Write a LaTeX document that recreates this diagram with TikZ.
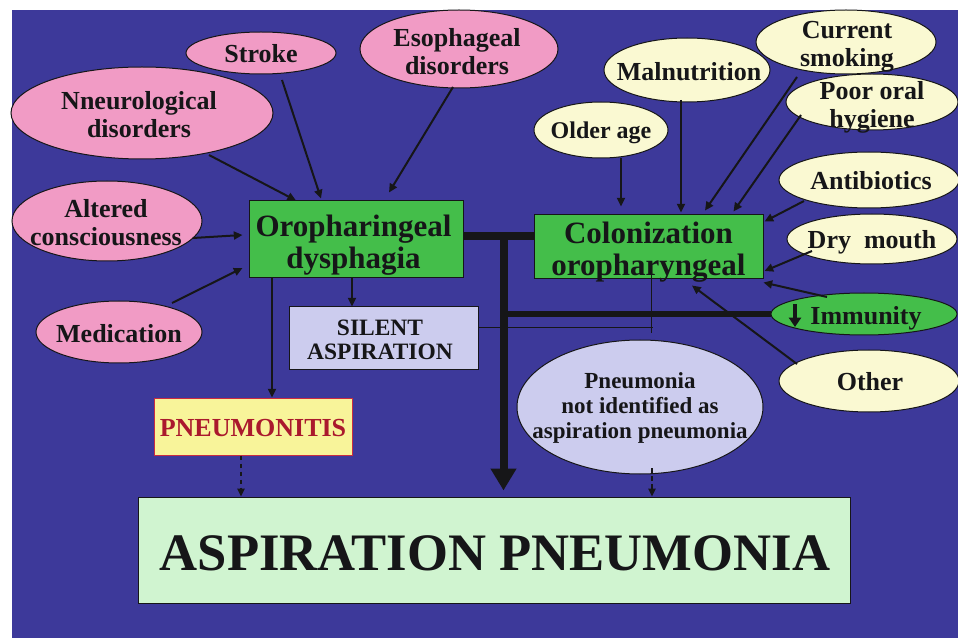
\documentclass[tikz,border=0pt]{standalone}
\usepackage{fontspec}
\setmainfont{Liberation Serif}
\usetikzlibrary{calc,shapes.geometric,arrows.meta}

\definecolor{bgblue}{RGB}{61,57,154}
\definecolor{pinkfill}{RGB}{241,155,197}
\definecolor{yelfill}{RGB}{250,249,210}
\definecolor{grnfill}{RGB}{68,190,74}
\definecolor{lavfill}{RGB}{204,204,238}
\definecolor{pnfill}{RGB}{248,244,154}
\definecolor{pnred}{RGB}{170,25,45}
\definecolor{pnedge}{RGB}{200,45,65}
\definecolor{aspfill}{RGB}{208,244,208}
\definecolor{ink}{RGB}{22,22,24}

\tikzset{
  ell/.style 2 args={ellipse, draw=ink, line width=0.75pt, inner sep=0pt,
    minimum width=#1*1.5pt, minimum height=#2*1.5pt},
  box/.style 2 args={rectangle, draw=ink, line width=0.75pt, inner sep=0pt,
    minimum width=#1*0.75pt, minimum height=#2*0.75pt},
  pinkel/.style={fill=pinkfill},
  yelel/.style={fill=yelfill},
  lbl/.style={align=center, inner sep=0pt, text=ink,
    font=\bfseries\fontsize{19.5pt}{21pt}\selectfont},
  arr/.style={draw=ink, line width=1.5pt, -{Triangle[length=6.5pt,width=6pt]}},
  darr/.style={draw=ink, line width=1.2pt, dash pattern=on 3.5pt off 2.5pt,
    -{Triangle[length=6pt,width=5.5pt]}},
  trunk/.style={draw=ink, line width=6pt},
  bigarr/.style={draw=ink, line width=6pt, -{Triangle[length=16.5pt,width=18.5pt]}},
  branch/.style={draw=ink, line width=4.5pt},
  fine/.style={draw=ink, line width=0.75pt},
}

\begin{document}
\begin{tikzpicture}[x=0.75pt,y=-0.75pt]
\useasboundingbox (0,0) rectangle (958,638);
\fill[white] (0,0) rectangle (958,638);
\fill[bgblue] (12,10) rectangle (958,638);

% causes of dysphagia
\node[ell={75}{21}, pinkel] (stroke) at (261,53) {};
\node[ell={99}{39}, pinkel] (esoph) at (459,49) {};
\node[ell={131}{46}, pinkel] (neuro) at (142,113) {};
\node[ell={95}{40}, pinkel] (alter) at (107,221) {};
\node[ell={83}{31}, pinkel] (medic) at (119,332) {};

% causes of colonization
\node[ell={67}{28}, yelel] (older) at (601,130) {};
\node[ell={83}{32}, yelel] (malnu) at (687,70) {};
\node[ell={90}{32}, yelel] (smoke) at (846,42) {};
\node[ell={86}{28}, yelel] (poor) at (872,102) {};
\node[ell={90}{28}, yelel] (anti) at (869,180) {};
\node[ell={85}{25}, yelel] (dry) at (872,239) {};
\node[ell={93}{21}, fill=grnfill] (imm) at (864,314) {};
\node[ell={90}{31}, yelel] (other) at (869,381) {};
\node[ell={123}{67}, fill=lavfill] (pna) at (640,407) {};

% labels of the ellipses
\node[lbl] (strokeT) at (261,54) {Stroke};
\node[lbl] (esophT) at (457,52) {Esophageal\\disorders};
\node[lbl] (neuroT) at (139,115) {Nneurological\\disorders};
\node[lbl] (alterT) at (106,223) {Altered\\consciousness};
\node[lbl] (medicT) at (119,334) {Medication};
\node[lbl, font=\bfseries\fontsize{18pt}{20pt}\selectfont] (olderT) at (601,133) {Older age};
\node[lbl] (malnuT) at (689,72) {Malnutrition};
\node[lbl] (smokeT) at (847,47) {Current\\smoking};
\node[lbl] (poorT) at (872,107) {Poor oral\\hygiene};
\node[lbl] (antiT) at (871,181) {Antibiotics};
\node[lbl] (dryT) at (872,242.5) {Dry\ \ mouth};
\node[lbl] (immT) at (866,318) {Immunity};
\node[lbl] (otherT) at (870,382) {Other};
\node[lbl, font=\bfseries\fontsize{17.25pt}{19pt}\selectfont] (pnaT) at (640,408)
  {Pneumonia\\not identified as\\aspiration pneumonia};
\draw[draw=ink, line width=3pt, -{Triangle[length=7pt,width=9pt]}]
  ($(imm)+(-69,-10)$) -- ($(imm)+(-69,13)$);

% boxes
\node[box={214}{77}, fill=grnfill] (oro) at (356,239.5) {};
\node[box={229}{64}, fill=grnfill] (col) at (648.5,247) {};
\node[box={189}{63}, fill=lavfill] (silent) at (383.5,338.5) {};
\node[box={198}{57}, fill=pnfill, draw=pnedge] (pneu) at (253,426.5) {};
\node[box={712}{106}, fill=aspfill] (asp) at (494,550) {};

% labels of the boxes
\node[lbl, font=\bfseries\fontsize{23.25pt}{24pt}\selectfont] (oroT) at (353.5,245.5)
  {Oropharingeal\\dysphagia};
\node[lbl, font=\bfseries\fontsize{23.25pt}{24.5pt}\selectfont] (colT) at (648.5,252)
  {Colonization\\oropharyngeal};
\node[lbl, font=\bfseries\fontsize{17.6pt}{18pt}\selectfont] (silentT) at (380,340)
  {SILENT\\ASPIRATION};
\node[lbl, text=pnred, font=\bfseries\fontsize{19.5pt}{20pt}\selectfont] (pneuT) at (253,428.5)
  {PNEUMONITIS};
\node[lbl, font=\bfseries\fontsize{39.5pt}{40pt}\selectfont] (aspT) at (495,553.5)
  {ASPIRATION PNEUMONIA};

% arrows into the dysphagia box
\draw[arr] ($(stroke)+(21,27)$) -- ($(oro.north)+(-35,-2)$);
\draw[arr] ($(neuro)+(67,42)$) -- ($(oro.north)+(-60,0)$);
\draw[arr] ($(esoph)+(-6,38)$) -- ($(oro.north)+(33,-8)$);
\draw[arr] ($(alter)+(86,17)$) -- ($(oro.west)+(-6,-4.5)$);
\draw[arr] ($(medic)+(53,-29)$) -- ($(oro.west)+(-6,28.5)$);

% from dysphagia downwards
\coordinate (s1) at ($(oro.south)+(-4,0)$);
\draw[arr] (s1) -- (s1 |- silent.north);
\coordinate (s2) at ($(oro.south)+(-84,0)$);
\draw[arr] (s2) -- (s2 |- pneu.north);
\coordinate (s3) at ($(pneu.south)+(-12,0)$);
\draw[darr] (s3) -- (s3 |- asp.north);
\coordinate (s4) at ($(pna)+(12,61)$);
\draw[darr] (s4) -- (s4 |- asp.north);

% main trunk
\coordinate (j1) at ($(oro.east)+(0,-3)$);
\draw[trunk] (j1) -- (j1 -| col.west);
\coordinate (j2) at ($(j1)+(40,0)$);
\draw[bigarr, shorten >=4.5pt] (j2) -- (j2 |- asp.north);
\draw[branch] (j2 |- imm.west) -- (imm.west);

% fine joining lines
\coordinate (t1) at ($(silent.east)+(0,-10.5)$);
\coordinate (t2) at ($(col.south)+(2.5,-4)$);
\draw[fine] (t1) -- ($(t1 -| t2)+(2,0)$);
\draw[fine] (t2) -- ($(t2)+(0,58)$);

% arrows into the colonization box
\coordinate (c1) at ($(older)+(20,28)$);
\draw[arr, shorten >=6pt] (c1) -- (c1 |- col.north);
\coordinate (c2) at ($(malnu)+(-6,30)$);
\draw[arr, shorten >=1.5pt] (c2) -- (c2 |- col.north);
\draw[arr] ($(smoke)+(-49,35)$) -- ($(col.north)+(56.5,-4)$);
\draw[arr] ($(poor)+(-71,13)$) -- ($(col.north)+(85,-3)$);
\draw[arr] ($(anti)+(-65,21)$) -- ($(col.north east)+(1,7)$);
\draw[arr] ($(dry)+(-60,12)$) -- ($(col.east)+(1,24)$);
\draw[arr] ($(imm)+(-37,-17)$) -- ($(col.south east)+(0,3)$);
\draw[arr] ($(other)+(-72,-17)$) -- ($(col.south)+(43.5,6)$);
\end{tikzpicture}
\end{document}
